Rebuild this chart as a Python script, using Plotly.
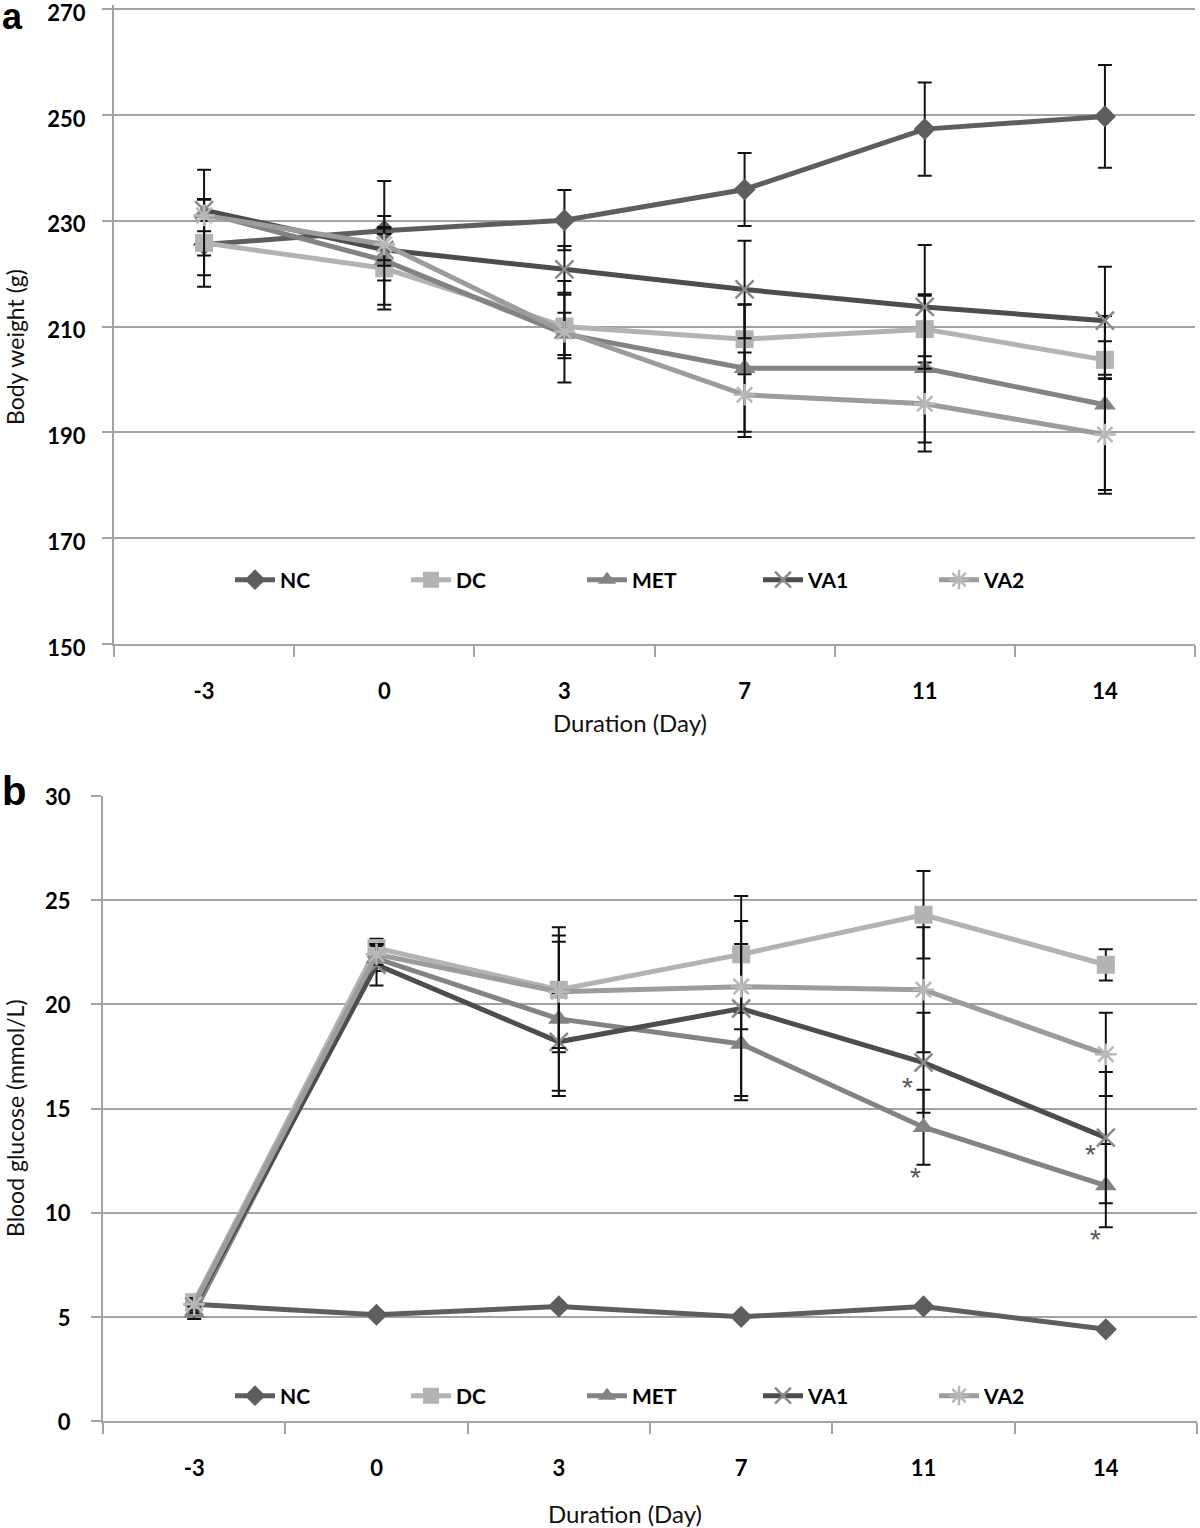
import plotly.graph_objects as go

# ---------------- data ----------------
days = ["-3", "0", "3", "7", "11", "14"]
groups = ["NC", "DC", "MET", "VA1", "VA2"]

# Panel a: body weight (g)
bw_NC = [225.5, 228.1, 230.1, 235.9, 247.3, 249.7]
bw_NC_sd = [5.8, 9.4, 5.7, 6.9, 8.8, 9.7]
bw_DC = [225.8, 221.0, 210.0, 207.6, 209.5, 203.7]
bw_DC_sd = [8.3, 7.8, 6.0, 6.6, 6.3, 3.5]
bw_MET = [231.5, 222.5, 208.6, 202.1, 202.1, 195.2]
bw_MET_sd = [8.1, 8.4, 4.0, 12.0, 14.0, 16.8]
bw_VA1 = [232.0, 224.5, 220.8, 217.0, 213.7, 211.1]
bw_VA1_sd = [2.0, 3.0, 4.4, 9.2, 11.7, 10.2]
bw_VA2 = [231.0, 225.5, 209.0, 197.1, 195.4, 189.6]
bw_VA2_sd = [3.0, 3.0, 9.6, 8.0, 9.0, 10.5]

# Panel b: blood glucose (mmol/L)
bg_NC = [5.6, 5.1, 5.5, 5.0, 5.5, 4.4]
bg_NC_sd = [0.15, 0.15, 0.15, 0.15, 0.15, 0.15]
bg_DC = [5.7, 22.7, 20.7, 22.4, 24.3, 21.9]
bg_DC_sd = [0.3, 0.45, 3.0, 2.8, 2.1, 0.75]
bg_MET = [5.2, 22.2, 19.3, 18.1, 14.1, 11.3]
bg_MET_sd = [0.3, 0.6, 3.7, 2.7, 1.8, 2.0]
bg_VA1 = [5.5, 21.9, 18.2, 19.8, 17.2, 13.6]
bg_VA1_sd = [0.3, 1.0, 2.35, 4.2, 2.4, 3.15]
bg_VA2 = [5.6, 22.4, 20.6, 20.85, 20.7, 17.6]
bg_VA2_sd = [0.3, 0.5, 2.7, 2.05, 3.0, 2.0]

# significance asterisks on panel b: (day, x offset in category units, glucose value)
star_days = ["11", "11", "14", "14"]
star_dx = [-0.09, -0.045, -0.085, -0.055]
star_vals = [16.0, 11.7, 12.8, 8.7]

bw_ticks = [150, 170, 190, 210, 230, 250, 270]
bg_ticks = [0, 5, 10, 15, 20, 25, 30]

# ---------------- styling ----------------
W, H = 1200, 1528
line_col = {"NC": "#5e5e5e", "DC": "#b3b3b3", "MET": "#838383", "VA1": "#4d4d4d", "VA2": "#9c9c9c"}
mark_col = {"NC": "#5e5e5e", "DC": "#b3b3b3", "MET": "#838383", "VA1": "#8a8a8a", "VA2": "#b8b8b8"}
symbols = {"NC": "diamond", "DC": "square", "MET": "triangle-up", "VA1": "x-thin-open", "VA2": "asterisk-open"}
sizes = {"NC": 17, "DC": 18, "MET": 19, "VA1": 18, "VA2": 18}
FONT = "Lato"
GRID = "#a3a3a3"

bw = {"NC": (bw_NC, bw_NC_sd), "DC": (bw_DC, bw_DC_sd), "MET": (bw_MET, bw_MET_sd),
      "VA1": (bw_VA1, bw_VA1_sd), "VA2": (bw_VA2, bw_VA2_sd)}
bg = {"NC": (bg_NC, bg_NC_sd), "DC": (bg_DC, bg_DC_sd), "MET": (bg_MET, bg_MET_sd),
      "VA1": (bg_VA1, bg_VA1_sd), "VA2": (bg_VA2, bg_VA2_sd)}

fig = go.Figure()


def add_series(data, xaxis, yaxis, legend):
    for g in groups:
        vals, sd = data[g]
        open_sym = symbols[g].endswith("open")
        fig.add_trace(go.Scatter(
            x=days, y=vals, name=g, mode="lines+markers",
            xaxis=xaxis, yaxis=yaxis, legend=legend,
            line=dict(color=line_col[g], width=5),
            marker=dict(symbol=symbols[g], size=sizes[g],
                        color=mark_col[g],
                        line=dict(color=mark_col[g], width=2.5 if open_sym else 0)),
            error_y=dict(type="data", array=sd, visible=True, color="#111111",
                         thickness=2, width=7),
        ))


add_series(bw, "x", "y", "legend")
add_series(bg, "x2", "y2", "legend2")

# ---------------- layout ----------------
def px_x(a, b):
    return [a / W, b / W]


def px_y(top, bottom):
    return [1 - bottom / H, 1 - top / H]


tickfont = dict(family=FONT, size=22, color="#000000", weight="bold")
common_x = dict(type="category", categoryorder="array", categoryarray=days,
                range=[-0.5, 5.5], showgrid=False, showline=True, linecolor=GRID,
                linewidth=2, ticks="outside", tickson="boundaries", ticklen=11,
                tickcolor=GRID, tickwidth=2, tickfont=tickfont, ticklabelstandoff=27,
                zeroline=False, fixedrange=True, automargin=False)
common_y = dict(showgrid=True, gridcolor=GRID, gridwidth=1.5, showline=True,
                linecolor=GRID, linewidth=2, ticks="outside", ticklen=10,
                tickcolor=GRID, tickwidth=2, tickfont=tickfont, zeroline=False,
                automargin=False, ticklabeloverflow="allow")

legend_common = dict(orientation="h", xanchor="center", yanchor="middle",
                     font=dict(family=FONT, size=21, color="#000000", weight="bold"),
                     bgcolor="rgba(0,0,0,0)", entrywidth=121, itemwidth=40, tracegroupgap=0)

# panel a: 150 at y=644 px, 270 at y=9 px -> a little headroom above 270 so its gridline shows
a_px_per_unit = (644 - 9) / (270 - 150)
a_top_px = 5
a_top_val = 270 + (9 - a_top_px) / a_px_per_unit

fig.update_layout(
    width=W, height=H,
    margin=dict(l=0, r=0, t=0, b=0, autoexpand=False),
    paper_bgcolor="white", plot_bgcolor="white",
    font=dict(family=FONT, color="#000000"),
    xaxis=dict(domain=px_x(114, 1195), anchor="y", **common_x),
    yaxis=dict(domain=px_y(a_top_px, 644), anchor="x", range=[150, a_top_val], tickvals=bw_ticks,
               ticklabelstandoff=12, ticklabelshift=4, **common_y),
    xaxis2=dict(domain=px_x(103, 1197), anchor="y2", **common_x),
    yaxis2=dict(domain=px_y(796, 1421), anchor="x2", range=[0, 30], tickvals=bg_ticks,
                ticklabelstandoff=16, ticklabelshift=1, **common_y),
    legend=dict(x=670 / W, y=1 - 580 / H, **legend_common),
    legend2=dict(x=670 / W, y=1 - 1396 / H, **legend_common),
    showlegend=True,
)

ann = []
# panel letters
ann.append(dict(text="<b>a</b>", x=0, y=1 - 16 / H, xref="paper", yref="paper",
                xanchor="left", yanchor="middle", showarrow=False,
                font=dict(family="Liberation Sans", size=36, color="#000000")))
ann.append(dict(text="<b>b</b>", x=0, y=1 - 791 / H, xref="paper", yref="paper",
                xanchor="left", yanchor="middle", showarrow=False,
                font=dict(family="Liberation Sans", size=40, color="#000000")))
# axis titles
title_font = dict(family=FONT, size=23, color="#111111")
ann.append(dict(text="Body weight (g)", x=15 / W, y=1 - 347 / H, xref="paper", yref="paper",
                textangle=-90, showarrow=False, xanchor="center", yanchor="middle", font=title_font))
ann.append(dict(text="Blood glucose (mmol/L)", x=15 / W, y=1 - 1118 / H, xref="paper", yref="paper",
                textangle=-90, showarrow=False, xanchor="center", yanchor="middle", font=title_font))
ann.append(dict(text="Duration (Day)", x=630 / W, y=1 - 722 / H, xref="paper", yref="paper",
                showarrow=False, xanchor="center", yanchor="middle", font=dict(family=FONT, size=24, color="#111111")))
ann.append(dict(text="Duration (Day)", x=625 / W, y=1 - 1513 / H, xref="paper", yref="paper",
                showarrow=False, xanchor="center", yanchor="middle", font=dict(family=FONT, size=24, color="#111111")))
# asterisks
for d, dx, v in zip(star_days, star_dx, star_vals):
    ann.append(dict(text="*", x=days.index(d) + dx, y=v, xref="x2", yref="y2",
                    showarrow=False, xanchor="center", yanchor="middle",
                    font=dict(family="Liberation Sans", size=28, color="#555555")))

fig.update_layout(annotations=ann)

fig.write_html("out.html", config={"displayModeBar": False},
               post_script="document.body.style.margin='0px';document.body.style.padding='0px';")
